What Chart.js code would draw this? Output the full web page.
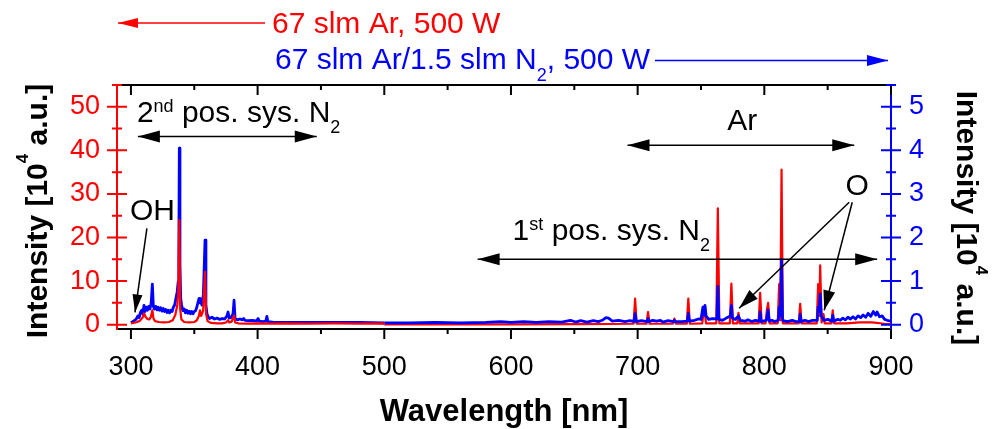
<!DOCTYPE html>
<html>
<head>
<meta charset="utf-8">
<script src="https://cdn.jsdelivr.net/npm/chart.js@4/dist/chart.umd.min.js"></script>
<style>
html,body{margin:0;padding:0;background:#fff;}
#wrap{width:1001px;height:429px;position:relative;}
</style>
</head>
<body>
<div id="wrap"><canvas id="spectrum"></canvas></div>
<script>
const FONT = "'Liberation Sans', Arial, Helvetica, sans-serif";
const RED = '#ff0000';
const BLUE = '#0000ff';

// tick labels
const wlTicks = [300,400,500,600,700,800,900];
const redTicks = [0,10,20,30,40,50];
const blueTicks = [0,1,2,3,4,5];

// 67 slm Ar, 500 W  [wavelength nm, intensity 10^4 a.u.] (left axis)
const redSpectrum = [
[300,0.3],[302,0.4],[305,0.6],[307,0.9],[309,1.5],[310.3,2.6],[311.5,1.8],[313,1.3],[314.5,1.2],[315.8,1.8],[316.9,3.3],[317.8,1.4],[319,0.8],[322,0.6],[326,0.5],[330,0.6],
[333,1.0],[335,2.2],[336.6,4.5],[337.4,7.5],[338.2,24.0],[338.9,3.5],[339.8,1.2],[342,0.6],[346,0.5],[350,0.6],
[352,1.0],[353.6,2.0],[354.5,3.3],[355.5,2.0],[357,3.2],[358.5,12.1],[359.3,2.5],[360.5,0.8],[363,0.4],[368,0.3],[372,0.3],
[375,0.5],[376.7,1.0],[377.6,0.5],[379.5,0.7],[381.4,2.1],[382.3,0.5],[385,0.3],[390,0.25],[400,0.3],[410,0.25],[420,0.3],[440,0.25],[460,0.3],[480,0.25],[499,0.3],
[500,0.05],[550,0.05],[600,0.05],[650,0.1],[680,0.15],
[696.8,0.2],[698,6.0],[699.2,0.2],[707,0.2],[708.2,2.9],[709.4,0.2],[727.8,0.2],[729,1.4],[730.2,0.2],[738.8,0.2],[740,6.0],[741.2,0.2],
[751,0.3],[752.5,4.2],[754,0.3],[762.1,0.3],[763.3,26.7],[764.5,0.3],[772.8,0.3],[774,9.4],[775.2,0.3],[778.6,0.3],[779.6,2.7],[780.6,0.3],
[790,0.3],[795.5,0.3],[796.7,7.3],[797.9,0.3],[801,0.3],[802,3.3],[803,5.0],[804.2,0.3],[810.6,0.3],[811.7,9.3],[812.6,1.0],[813.6,35.6],[814.6,0.3],
[820,0.3],[827.2,0.3],[828.3,4.8],[829.4,0.3],[841.4,0.3],[842.5,9.3],[843.3,2.0],[844.1,13.6],[845.2,0.5],[846.7,2.4],[847.7,0.3],
[852.9,0.3],[854,3.3],[855.1,0.3],[865,0.3],[875,0.5],[885,0.5],[895,0.2],[900,0.1]
];

// 67 slm Ar/1.5 slm N2, 500 W  [wavelength nm, intensity 10^4 a.u.] (right axis)
const blueSpectrum = [
[300,0.04],[302,0.08],[304,0.12],[305.5,0.2],[306.5,0.16],[307.5,0.28],[308.5,0.33],[309.3,0.25],[310.3,0.44],[311,0.3],[312,0.4],[313,0.33],[314,0.42],[315,0.36],[316,0.5],[316.9,0.93],[317.7,0.42],
[318.5,0.36],[319.5,0.42],[320.5,0.34],[321.5,0.4],[322.5,0.33],[323.5,0.39],[324.5,0.31],[325.5,0.37],[326.5,0.3],[327.5,0.35],[328.5,0.28],[329.5,0.33],[330.5,0.27],[331.5,0.33],[332.5,0.3],
[333.5,0.4],[334.5,0.45],[335.5,0.6],[336.5,0.75],[337.3,0.98],[337.8,1.6],[338.2,4.05],[338.7,1.4],[339.3,0.6],[340,0.45],[341,0.32],[342,0.36],[343,0.27],[344,0.33],[345,0.26],[346,0.31],[347,0.25],[348,0.3],[349,0.25],[350,0.3],
[351,0.32],[352,0.4],[353,0.52],[353.8,0.6],[354.5,0.5],[355.3,0.58],[356,0.45],[357.2,0.7],[358.5,1.94],[359.2,0.45],[360,0.25],[361,0.18],[362,0.14],[364,0.17],[366,0.13],[368,0.15],[370,0.12],[372,0.14],[374,0.13],
[375.8,0.2],[376.7,0.29],[377.5,0.15],[379,0.16],[380.6,0.25],[381.4,0.56],[382.2,0.14],[384,0.11],[386,0.13],[388,0.11],[389,0.14],[390,0.1],[393,0.09],[396,0.1],[399,0.08],[400.4,0.14],[401.3,0.08],
[404,0.07],[406.5,0.08],[407.3,0.19],[408.1,0.07],[412,0.06],[420,0.05],[440,0.05],[460,0.05],[480,0.05],[500,0.04],[520,0.04],[540,0.05],[560,0.04],[580,0.05],[592,0.07],[600,0.05],[610,0.07],[620,0.05],
[630,0.07],[640,0.06],[647,0.1],[651,0.06],[655,0.09],[660,0.06],[665,0.09],[669,0.07],[672,0.1],[675,0.16],[677,0.15],[680,0.08],[685,0.1],[690,0.07],[694,0.09],[697,0.07],[698,0.25],[699,0.07],[703,0.09],
[707.4,0.07],[708.2,0.14],[709,0.07],[712,0.1],[715,0.08],[718,0.1],[720,0.06],[724,0.09],
[728.2,0.07],[729,0.1],[729.8,0.07],[735,0.07],[739.2,0.08],[740,0.26],[740.8,0.08],[745,0.1],[748,0.13],[750,0.12],[751.5,0.4],[752.3,0.22],[753.2,0.44],[754,0.2],[756,0.12],[759,0.14],[762.5,0.13],
[763.3,0.88],[764.1,0.12],[767,0.1],[770,0.15],[773.2,0.2],[774,0.44],[774.8,0.15],[777,0.12],[779.6,0.2],[781,0.1],[785,0.08],[787,0.11],[790,0.07],[793,0.1],[796,0.08],[796.7,0.29],[797.4,0.07],[801.5,0.1],[802.2,0.2],
[803,0.34],[803.8,0.08],[806,0.1],[808,0.07],[811,0.1],[811.7,0.4],[812.5,0.2],[813.6,1.5],[814.4,0.1],[818,0.07],[822,0.1],[825,0.07],[827.6,0.07],[828.3,0.24],[829,0.07],[832,0.1],[835,0.07],[838,0.1],[841.8,0.1],[842.5,0.4],[843.3,0.3],[844.1,0.7],
[844.9,0.2],[846,0.15],[847,0.1],[850,0.12],[853.3,0.08],[854,0.21],[854.7,0.08],[858,0.12],[860,0.1],[862,0.15],[864,0.11],[866,0.17],[868,0.13],[870,0.18],[872,0.13],[874,0.2],[876,0.16],[878,0.22],[880,0.17],
[882,0.26],[884,0.19],[886,0.3],[888,0.22],[889,0.29],[891,0.18],[893,0.2],[895,0.12],[897,0.1],[900,0.08]
];

const toXY = arr => arr.map(p => ({x:p[0], y:p[1]}));
const lowPart = arr => toXY(arr.filter(p => p[0] <= 500));
const highPart = arr => toXY(arr.filter(p => p[0] >= 500));

Chart.defaults.font.family = FONT;

function lineDs(data, color, axis, order, width){
  return {
    data: data, yAxisID: axis, order: order,
    borderColor: color, borderWidth: width,
    pointRadius: 0, tension: 0, fill: false,
    borderJoinStyle: 'round'
  };
}

function richText(ctx, parts, x, y, align, color){
  let w = 0;
  parts.forEach(p => {
    ctx.font = (p.bold ? 'bold ' : '') + p.size + 'px ' + FONT;
    p.w = ctx.measureText(p.t).width;
    w += p.w;
  });
  let cx = align === 'center' ? x - w/2 : x;
  ctx.fillStyle = color;
  ctx.textAlign = 'left';
  ctx.textBaseline = 'alphabetic';
  parts.forEach(p => {
    ctx.font = (p.bold ? 'bold ' : '') + p.size + 'px ' + FONT;
    ctx.fillText(p.t, cx, y + (p.dy || 0));
    cx += p.w;
  });
}

function head(ctx, x1, y1, x2, y2, len, half){
  const a = Math.atan2(y2-y1, x2-x1);
  const c = Math.cos(a), s = Math.sin(a);
  ctx.beginPath();
  ctx.moveTo(x2, y2);
  ctx.lineTo(x2 - len*c + half*s, y2 - len*s - half*c);
  ctx.lineTo(x2 - len*c - half*s, y2 - len*s + half*c);
  ctx.closePath();
  ctx.fill();
}

function arrow(ctx, x1, y1, x2, y2, color, len, half, both){
  ctx.strokeStyle = color; ctx.fillStyle = color; ctx.lineWidth = 1.5;
  ctx.beginPath(); ctx.moveTo(x1, y1); ctx.lineTo(x2, y2); ctx.stroke();
  head(ctx, x1, y1, x2, y2, len, half);
  if (both) head(ctx, x2, y2, x1, y1, len, half);
}

const framePlugin = {
  id: 'frame',
  afterDatasetsDraw(chart){
    const ctx = chart.ctx, a = chart.chartArea;
    const xs = chart.scales.x, yr = chart.scales.yRed, yb = chart.scales.yBlue;
    ctx.save();
    ctx.lineWidth = 2;
    // top frame
    ctx.strokeStyle = '#000';
    ctx.beginPath(); ctx.moveTo(a.left, a.top); ctx.lineTo(a.right, a.top); ctx.stroke();
    // x ticks: outward at bottom, inward at top
    wlTicks.forEach((v, i) => {
      const x = xs.getPixelForValue(v);
      ctx.beginPath();
      ctx.moveTo(x, a.bottom); ctx.lineTo(x, a.bottom + 10);
      ctx.moveTo(x, a.top); ctx.lineTo(x, a.top + 10);
      ctx.stroke();
      if (i < wlTicks.length - 1){
        const m = xs.getPixelForValue((v + wlTicks[i+1]) / 2);
        ctx.beginPath();
        ctx.moveTo(m, a.bottom); ctx.lineTo(m, a.bottom + 5);
        ctx.moveTo(m, a.top); ctx.lineTo(m, a.top + 5);
        ctx.stroke();
      }
    });
    // left red ticks crossing the axis
    ctx.strokeStyle = RED;
    redTicks.forEach(v => {
      const y = yr.getPixelForValue(v), m = yr.getPixelForValue(v + 5);
      ctx.beginPath();
      ctx.moveTo(a.left - 10, y); ctx.lineTo(a.left + 10, y);
      ctx.moveTo(a.left - 5, m); ctx.lineTo(a.left + 5, m);
      ctx.stroke();
    });
    // right blue ticks
    ctx.strokeStyle = BLUE;
    blueTicks.forEach(v => {
      const y = yb.getPixelForValue(v), m = yb.getPixelForValue(v + 0.5);
      ctx.beginPath();
      ctx.moveTo(a.right - 10, y); ctx.lineTo(a.right + 10, y);
      ctx.moveTo(a.right - 5, m); ctx.lineTo(a.right + 5, m);
      ctx.stroke();
    });
    ctx.restore();
  },
  afterDraw(chart){
    const ctx = chart.ctx, a = chart.chartArea;
    const xs = chart.scales.x, yr = chart.scales.yRed;
    const px = v => xs.getPixelForValue(v), py = v => yr.getPixelForValue(v);
    ctx.save();

    // series labels above the plot
    arrow(ctx, 265, 23, a.left + 1, 23, RED, 20, 5, false);
    richText(ctx, [{t:'67 slm Ar, 500 W', size:30}], 272, 33, 'left', RED);
    richText(ctx, [{t:'67 slm Ar/1.5 slm N', size:30}, {t:'2', size:18, dy:12}, {t:', 500 W', size:30}], 275, 69, 'left', BLUE);
    arrow(ctx, 655, 60.5, a.right - 3, 60.5, BLUE, 21, 5.5, false);

    // band annotations
    richText(ctx, [{t:'2', size:30}, {t:'nd', size:18, dy:-10}, {t:' pos. sys. N', size:30}, {t:'2', size:18, dy:11}], px(304.7), py(46.5), 'left', '#000');
    arrow(ctx, px(305.5), py(43.2), px(446.7), py(43.2), '#000', 22, 6, true);

    richText(ctx, [{t:'OH', size:30}], px(299.2), py(24.0), 'left', '#000');
    arrow(ctx, px(312.6), py(22.1), px(303.2), py(2.8), '#000', 18, 5, false);

    richText(ctx, [{t:'Ar', size:30}], px(782.6), py(44.6), 'center', '#000');
    arrow(ctx, px(692), py(41.2), px(871), py(41.2), '#000', 22, 6, true);

    richText(ctx, [{t:'1', size:30}, {t:'st', size:18, dy:-10}, {t:' pos. sys. N', size:30}, {t:'2', size:18, dy:11}], px(601.3), py(19.4), 'left', '#000');
    arrow(ctx, px(573.7), py(15.0), px(889.1), py(15.0), '#000', 22, 6, true);

    richText(ctx, [{t:'O', size:30}], px(873.3), py(29.7), 'center', '#000');
    arrow(ctx, px(867.0), py(28.1), px(780.1), py(3.75), '#000', 20, 6, false);
    arrow(ctx, px(869.4), py(28.1), px(847.3), py(3.3), '#000', 20, 6, false);

    // axis titles
    const yTitle = [{t:'Intensity [10', size:30, bold:true}, {t:'4', size:17, bold:true, dy:-19}, {t:' a.u.]', size:30, bold:true}];
    ctx.save();
    ctx.translate(47, 211);
    ctx.rotate(-Math.PI/2);
    richText(ctx, yTitle, 0, 0, 'center', '#000');
    ctx.restore();
    ctx.save();
    ctx.translate(957, 218);
    ctx.rotate(Math.PI/2);
    richText(ctx, yTitle, 0, 0, 'center', '#000');
    ctx.restore();
    richText(ctx, [{t:'Wavelength [nm]', size:31, bold:true}], (a.left + a.right)/2, 421, 'center', '#000');

    ctx.restore();
  }
};

new Chart(document.getElementById('spectrum'), {
  type: 'line',
  data: {
    datasets: [
      lineDs(lowPart(redSpectrum), RED, 'yRed', 0, 2.2),
      lineDs(highPart(blueSpectrum), BLUE, 'yBlue', 1, 2.8),
      lineDs(lowPart(blueSpectrum), BLUE, 'yBlue', 2, 2.8),
      lineDs(highPart(redSpectrum), RED, 'yRed', 3, 2.2)
    ]
  },
  options: {
    responsive: true,
    maintainAspectRatio: false,
    animation: false,
    layout: {padding: {top: 85}},
    plugins: {legend: {display: false}, tooltip: {enabled: false}},
    scales: {
      x: {
        type: 'linear', position: 'bottom', min: 289, max: 900,
        afterBuildTicks: s => { s.ticks = wlTicks.map(v => ({value: v})); },
        afterFit: s => { s.height = 100; },
        grid: {display: false, drawTicks: false},
        border: {display: true, color: '#000', width: 2},
        ticks: {color: '#000', font: {size: 27}, padding: 22, autoSkip: false, maxRotation: 0}
      },
      yRed: {
        type: 'linear', position: 'left', min: -1, max: 55,
        afterBuildTicks: s => { s.ticks = redTicks.map(v => ({value: v})); },
        afterFit: s => { s.width = 117; },
        grid: {display: false, drawTicks: false},
        border: {display: true, color: RED, width: 2},
        ticks: {color: RED, font: {size: 27}, padding: 17}
      },
      yBlue: {
        type: 'linear', position: 'right', min: -0.1, max: 5.5,
        afterBuildTicks: s => { s.ticks = blueTicks.map(v => ({value: v})); },
        afterFit: s => { s.width = 110; },
        grid: {display: false, drawTicks: false},
        border: {display: true, color: BLUE, width: 2},
        ticks: {color: BLUE, font: {size: 27}, padding: 18}
      }
    }
  },
  plugins: [framePlugin]
});
</script>
</body>
</html>
